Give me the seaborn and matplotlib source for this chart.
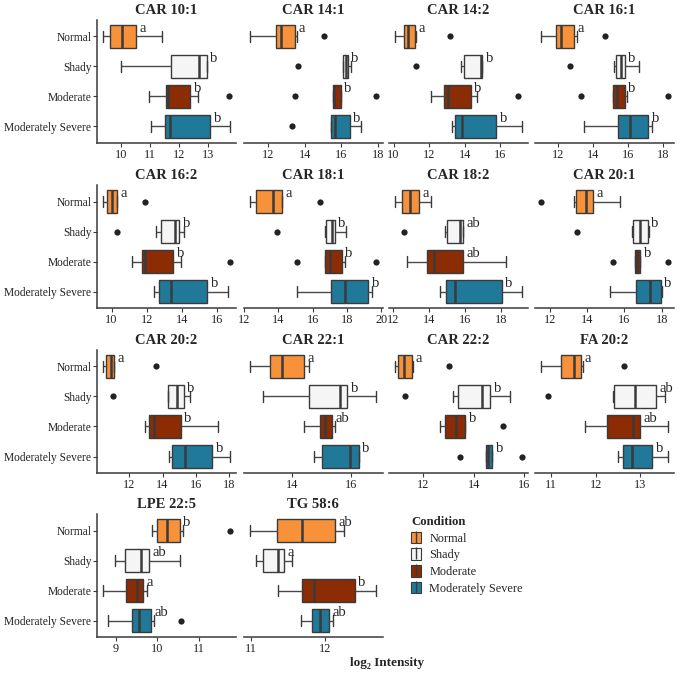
import numpy as np
import pandas as pd
import seaborn as sns
import matplotlib.pyplot as plt
from matplotlib.patches import Patch
from matplotlib.lines import Line2D
from matplotlib.legend_handler import HandlerTuple

# 分组与颜色
conditions = ["Normal", "Shady", "Moderate", "Moderately Severe"]
colors = ["#F7923A", "#F5F5F5", "#8B2C04", "#21799A"]

titles = ["CAR 10:1", "CAR 14:1", "CAR 14:2", "CAR 16:1", "CAR 16:2", "CAR 18:1", "CAR 18:2",
          "CAR 20:1", "CAR 20:2", "CAR 22:1", "CAR 22:2", "FA 20:2", "LPE 22:5", "TG 58:6"]

# 箱线图五数概括（每个面板按 Normal, Shady, Moderate, Moderately Severe）
whisker_lo = [[9.38, 9.98, 10.96, 11.05], [11.0, 16.09, 15.55, 15.42], [10.10, 13.80, 12.13, 13.27],
              [11.06, 15.20, 15.15, 13.46], [9.53, 12.55, 11.17, 12.45], [12.33, 16.72, 16.72, 15.07],
              [12.12, 14.88, 12.76, 14.59], [13.32, 16.39, 16.56, 15.23], [10.44, 14.34, 12.94, 14.38],
              [12.57, 13.02, 14.40, 14.76], [10.89, 13.17, 12.65, 14.48], [10.79, 12.40, 11.76, 12.51],
              [9.88, 8.97, 8.70, 8.82], [10.99, 11.07, 11.37, 11.68]]
q1 = [[9.61, 11.73, 11.56, 11.51], [12.42, 16.09, 15.55, 15.42], [10.56, 13.97, 12.83, 13.46],
      [11.87, 15.28, 15.15, 15.43], [9.72, 12.83, 11.75, 12.70], [12.72, 16.80, 16.72, 17.05],
      [12.49, 15.01, 13.91, 14.96], [13.44, 16.46, 16.56, 16.63], [10.60, 14.34, 13.18, 14.58],
      [13.27, 14.57, 14.96, 15.04], [11.00, 13.37, 12.85, 14.48], [11.22, 12.42, 12.26, 12.61],
      [9.98, 9.22, 9.25, 9.38], [11.35, 11.17, 11.69, 11.83]]
median = [[10.03, 12.69, 11.62, 11.68], [12.69, 16.27, 15.62, 15.64], [10.80, 14.89, 13.05, 13.84],
          [12.19, 15.56, 15.37, 16.12], [10.00, 13.64, 11.89, 13.40], [13.69, 17.15, 16.99, 17.86],
          [12.93, 15.75, 14.28, 15.47], [13.93, 16.86, 16.68, 17.39], [10.90, 14.90, 13.50, 15.38],
          [13.67, 15.63, 15.12, 15.97], [11.24, 14.32, 13.30, 14.57], [11.53, 12.87, 12.83, 12.81],
          [10.22, 9.61, 9.50, 9.56], [11.69, 11.37, 11.86, 11.93]]
q3 = [[10.52, 12.98, 12.40, 13.10], [13.47, 16.36, 15.96, 16.45], [11.21, 14.99, 14.34, 15.76],
      [12.94, 15.80, 15.80, 17.15], [10.32, 13.87, 13.53, 15.47], [14.19, 17.30, 17.69, 19.24],
      [13.45, 15.88, 15.88, 18.06], [14.35, 17.25, 16.86, 17.95], [11.08, 15.28, 15.10, 17.00],
      [14.40, 15.89, 15.36, 16.28], [11.54, 14.67, 13.67, 14.74], [11.68, 13.35, 13.00, 13.27],
      [10.54, 9.81, 9.65, 9.85], [12.13, 11.45, 12.40, 12.06]]
whisker_hi = [[11.42, 12.98, 12.66, 13.77], [13.55, 16.53, 15.96, 17.05], [11.25, 14.99, 14.67, 17.20],
              [13.07, 16.59, 15.95, 17.37], [10.32, 14.15, 13.96, 16.66], [14.19, 17.96, 17.86, 19.48],
              [14.13, 15.88, 18.29, 19.16], [15.75, 17.33, 16.86, 18.04], [11.08, 15.64, 17.34, 18.04],
              [14.60, 16.87, 15.47, 16.30], [11.61, 15.43, 13.67, 14.74], [11.73, 13.56, 13.61, 13.61],
              [10.62, 10.54, 9.76, 9.93], [12.26, 11.56, 12.69, 12.11]]
outliers = [[[], [], [13.73], []], [[15.05], [13.65], [13.47, 17.9], [13.33]],
            [[13.18], [11.26], [17.01], []], [[14.66], [12.71], [13.31, 18.24], []],
            [[11.89], [10.32], [16.74], []], [[16.41], [13.94], [15.11, 19.71], []],
            [[], [12.58], [], []], [[11.56], [13.49], [15.37, 18.32], []],
            [[13.6], [11.04], [], []], [[], [], [], []],
            [[13.02], [11.28], [15.17], [13.46, 15.91]], [[12.63], [10.94], [], []],
            [[11.74], [], [], [10.58]], [[], [], [], []]]
letters = [["a", "b", "b", "b"], ["a", "b", "b", "b"], ["a", "b", "b", "b"], ["a", "b", "b", "b"],
           ["a", "b", "b", "b"], ["a", "b", "b", "b"], ["a", "ab", "ab", "b"], ["a", "b", "b", "b"],
           ["a", "b", "b", "b"], ["a", "b", "ab", "b"], ["a", "b", "b", "b"], ["a", "ab", "ab", "b"],
           ["b", "ab", "a", "ab"], ["ab", "a", "b", "ab"]]
xticks = [[10, 11, 12, 13], [12, 14, 16, 18], [10, 12, 14, 16], [12, 14, 16, 18], [10, 12, 14, 16],
          [12, 14, 16, 18, 20], [12, 14, 16, 18], [12, 14, 16, 18], [12, 14, 16, 18], [14, 16],
          [12, 14, 16], [11, 12, 13], [9, 10, 11], [11, 12]]

sns.set_theme(style="white")
plt.rcParams["font.family"] = ["Liberation Serif", "DejaVu Serif"]

W, H = 680, 674
fig = plt.figure(figsize=(W / 100, H / 100), dpi=100)

col_left = [97, 243.5, 389, 535]
row_top = [20, 185, 350, 514]
pw, ph = 139, 123
line_c = "#3a3a3a"

for i, title in enumerate(titles):
    r, c = divmod(i, 4)
    ax = fig.add_axes([col_left[c] / W, 1 - (row_top[r] + ph) / H, pw / W, ph / H])

    # 用五数概括构造箱线数据
    vals = [[whisker_lo[i][j], q1[i][j], median[i][j], q3[i][j], whisker_hi[i][j]] for j in range(4)]
    df = pd.DataFrame({"Condition": np.repeat(conditions, 5), "value": np.ravel(vals)})
    sns.boxplot(data=df, x="value", y="Condition", hue="Condition", order=conditions,
                hue_order=conditions, palette=colors, whis=(0, 100), width=0.75, dodge=False,
                showfliers=False, linecolor=line_c, linewidth=1.0, saturation=1,
                medianprops={"linewidth": 1.8}, whiskerprops={"color": "#4a4a4a"},
                legend=False, ax=ax)

    out_rows = [(cond, v) for cond, vs in zip(conditions, outliers[i]) for v in vs]
    if out_rows:
        odf = pd.DataFrame(out_rows, columns=["Condition", "value"])
        sns.stripplot(data=odf, x="value", y="Condition", order=conditions, jitter=False,
                      color="#222222", size=4.5, ax=ax)

    for j in range(4):
        ax.annotate(letters[i][j], xy=(q3[i][j], j - 0.15), xytext=(2.5, 0),
                    textcoords="offset points", ha="left", va="baseline", fontsize=10.5)

    allv = np.concatenate([np.ravel(vals)] + [np.array(o, dtype=float) for o in outliers[i]])
    mn, mx = allv.min(), allv.max()
    pad = 0.05 * (mx - mn)
    ax.set_xlim(mn - pad, mx + pad)
    ax.set_ylim(3.55, -0.55)
    ax.set_xticks(xticks[i])
    ax.set_xlabel("")
    ax.set_ylabel("")
    ax.set_title(title, fontsize=10.5, fontweight="bold", pad=4)

    for s in ["top", "right"]:
        ax.spines[s].set_visible(False)
    ax.spines["bottom"].set_color(line_c)
    ax.spines["bottom"].set_linewidth(1.1)
    if c == 0:
        ax.spines["left"].set_color(line_c)
        ax.spines["left"].set_linewidth(1.1)
        ax.tick_params(axis="y", left=True, length=3, width=0.8, color=line_c,
                       labelsize=8.3, labelcolor="#222222", pad=1)
    else:
        ax.spines["left"].set_visible(False)
        ax.tick_params(axis="y", left=False, labelleft=False)
    ax.tick_params(axis="x", bottom=True, length=3, width=0.8, color=line_c,
                   labelsize=8.8, labelcolor="#222222", pad=1.5)

# 图例
handles = [(Line2D([], [], color=line_c, linewidth=0.8),
            Patch(facecolor=col, edgecolor=line_c, linewidth=0.8),
            Line2D([], [], color=line_c, marker="|", markersize=9, linestyle="none"))
           for col in colors]
fig.legend(handles, conditions, title="Condition", loc="upper left",
           bbox_to_anchor=(400 / W, 1 - 505 / H), frameon=False, fontsize=8.8,
           title_fontproperties={"weight": "bold", "size": 9.2}, handlelength=0.8,
           handleheight=1.1, handletextpad=0.7, labelspacing=0.3, alignment="left",
           handler_map={tuple: HandlerTuple(ndivide=1)})

fig.text(387 / W, 1 - 663 / H, "log₂ Intensity", ha="center", va="center",
         fontweight="bold", fontsize=9.5)

fig.savefig("out.png", dpi=100)
